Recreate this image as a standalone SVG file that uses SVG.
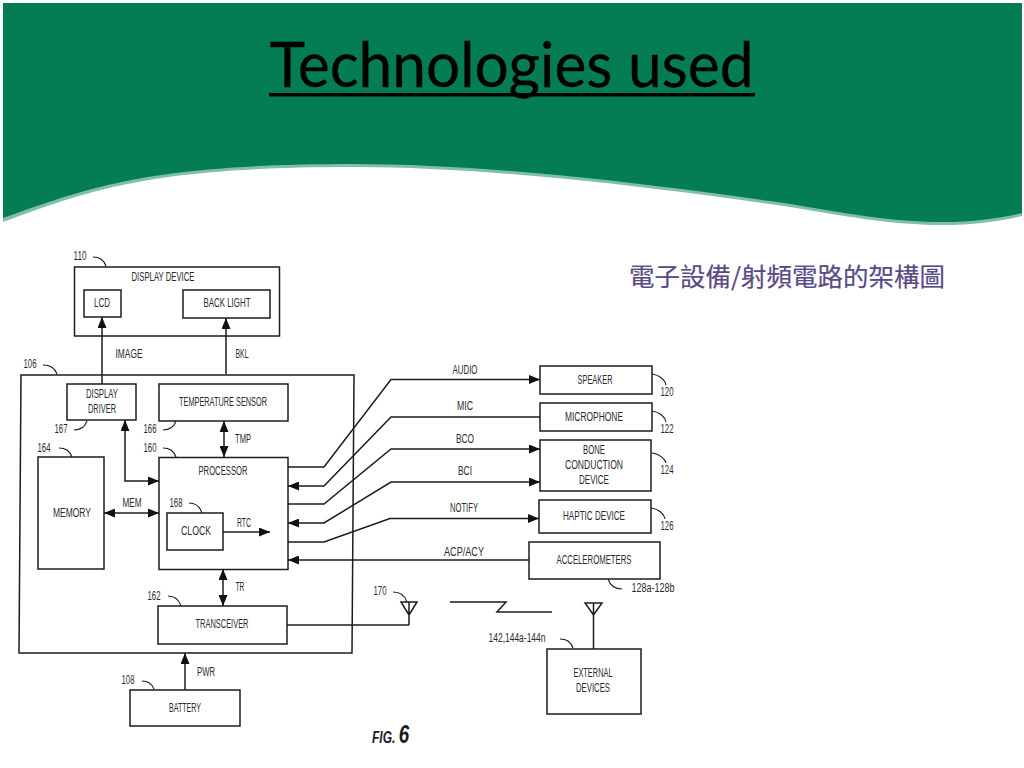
<svg xmlns="http://www.w3.org/2000/svg" width="1024" height="768" viewBox="0 0 1024 768">
<style>
.b{fill:#fff;stroke:#1c1c1c;stroke-width:1.5}
.n{fill:none;stroke:#1c1c1c;stroke-width:1.5}
.l{fill:none;stroke:#1c1c1c;stroke-width:1.1}
.t{font-family:"Liberation Sans",Arial,sans-serif;font-size:12px;fill:#2a2a2a;text-anchor:middle}
.a{marker-end:url(#ah)}
.d{marker-start:url(#as);marker-end:url(#ah)}
</style>
<defs>
<marker id="ah" markerUnits="userSpaceOnUse" markerWidth="12" markerHeight="9" refX="11" refY="4.5" orient="auto"><path d="M0,0L11,4.5L0,9Z" fill="#111"/></marker>
<marker id="as" markerUnits="userSpaceOnUse" markerWidth="12" markerHeight="9" refX="0" refY="4.5" orient="auto"><path d="M11,0L0,4.5L11,9Z" fill="#111"/></marker>
</defs>
<rect width="1024" height="768" fill="#fff"/>
<g id="header">
<path d="M3,6 H1022 V216 C1000,221 975,225 941,225 C900,225 860,219 784,206 C670,190 500,167 353,167 C150,167 90,190 3,222Z" fill="#80C0A6"/>
<path d="M3,3 H1022 V213 C1000,218 975,222 941,222 C900,222 860,216 784,203 C670,187 500,164 353,164 C150,164 90,187 3,218Z" fill="#047C55"/>
<text x="511.5" y="87" font-family="Lato,'Open Sans',sans-serif" font-size="62" text-anchor="middle" fill="#000" stroke="#000" stroke-width="0.3" textLength="484" lengthAdjust="spacingAndGlyphs">Technologies used</text>
<rect x="269" y="93" width="486" height="3.5" fill="#000"/>
</g>
<text id="caption" x="787" y="286" font-family="'Noto Sans CJK TC','Noto Sans',sans-serif" font-size="25" text-anchor="middle" fill="#5A4A86" stroke="#5A4A86" stroke-width="0.2" textLength="316" lengthAdjust="spacingAndGlyphs">電子設備/射頻電路的架構圖</text>

<g id="n106"><path class="b" d="M21,375 L354,375 L352,653 L19,653Z"/><path class="l" d="M43,365 C50,365 55,368 57,374"/><text class="t" x="30" y="368" textLength="13" lengthAdjust="spacingAndGlyphs">106</text></g>
<g id="n110"><rect class="b" x="74.500" y="267" width="205" height="69"/><path class="l" d="M93,257 C100,257 104,260 106,266"/><text class="t" x="80" y="260" textLength="13" lengthAdjust="spacingAndGlyphs">110</text><text class="t" x="163" y="281" textLength="63" lengthAdjust="spacingAndGlyphs">DISPLAY DEVICE</text></g>
<g id="lcd"><rect class="b" x="84" y="290" width="37" height="27"/><text class="t" x="102" y="307" textLength="16" lengthAdjust="spacingAndGlyphs">LCD</text></g>
<g id="backlight"><rect class="b" x="183" y="290" width="87" height="28"/><text class="t" x="227" y="307" textLength="47" lengthAdjust="spacingAndGlyphs">BACK LIGHT</text></g>
<g id="driver"><rect class="b" x="67" y="384" width="69" height="36"/><text class="t" x="102" y="398" textLength="32" lengthAdjust="spacingAndGlyphs">DISPLAY</text><text class="t" x="102" y="413" textLength="28" lengthAdjust="spacingAndGlyphs">DRIVER</text><path class="l" d="M74,430 C80,430 85,427 87,421"/><text class="t" x="61" y="433" textLength="13" lengthAdjust="spacingAndGlyphs">167</text></g>
<g id="temp"><rect class="b" x="159" y="384" width="129" height="37"/><text class="t" x="223" y="406" textLength="88" lengthAdjust="spacingAndGlyphs">TEMPERATURE SENSOR</text><path class="l" d="M163,430 C169,430 174,427 176,421"/><text class="t" x="150" y="433" textLength="13" lengthAdjust="spacingAndGlyphs">166</text></g>
<g id="memory"><rect class="b" x="38" y="457" width="66" height="112"/><text class="t" x="72" y="517" textLength="38" lengthAdjust="spacingAndGlyphs">MEMORY</text><path class="l" d="M59,448 C66,448 70,451 72,457"/><text class="t" x="44" y="452" textLength="13" lengthAdjust="spacingAndGlyphs">164</text></g>
<g id="processor"><rect class="b" x="159" y="457.500" width="129" height="112"/><text class="t" x="223" y="475" textLength="49" lengthAdjust="spacingAndGlyphs">PROCESSOR</text><path class="l" d="M163,448 C170,448 174,451 176,457"/><text class="t" x="150" y="452" textLength="13" lengthAdjust="spacingAndGlyphs">160</text></g>
<g id="clock"><rect class="b" x="167" y="513" width="56" height="37"/><text class="t" x="196" y="535" textLength="30" lengthAdjust="spacingAndGlyphs">CLOCK</text><path class="l" d="M189,503 C196,503 200,507 202,513"/><text class="t" x="176" y="507" textLength="13" lengthAdjust="spacingAndGlyphs">168</text></g>
<g id="transceiver"><rect class="b" x="158" y="606" width="129" height="38"/><text class="t" x="222" y="628" textLength="53" lengthAdjust="spacingAndGlyphs">TRANSCEIVER</text><path class="l" d="M168,596 C175,596 179,600 181,606"/><text class="t" x="154" y="600" textLength="13" lengthAdjust="spacingAndGlyphs">162</text></g>
<g id="battery"><rect class="b" x="130" y="690" width="110" height="36"/><text class="t" x="185" y="712" textLength="32" lengthAdjust="spacingAndGlyphs">BATTERY</text><path class="l" d="M142,681 C149,681 152,684 154,689"/><text class="t" x="128" y="684" textLength="13" lengthAdjust="spacingAndGlyphs">108</text></g>
<g id="speaker"><rect class="b" x="540" y="366" width="112" height="28"/><text class="t" x="595" y="384" textLength="35" lengthAdjust="spacingAndGlyphs">SPEAKER</text><path class="l" d="M652,374 C660,375 665,380 666,385"/><text class="t" x="667" y="396" textLength="13" lengthAdjust="spacingAndGlyphs">120</text></g>
<g id="microphone"><rect class="b" x="540" y="403" width="112" height="28"/><text class="t" x="594" y="421" textLength="58" lengthAdjust="spacingAndGlyphs">MICROPHONE</text><path class="l" d="M652,411 C660,412 665,417 666,422"/><text class="t" x="667" y="433" textLength="13" lengthAdjust="spacingAndGlyphs">122</text></g>
<g id="bone"><rect class="b" x="540" y="440" width="111" height="51"/><text class="t" x="594" y="454" textLength="22" lengthAdjust="spacingAndGlyphs">BONE</text><text class="t" x="594" y="469" textLength="58" lengthAdjust="spacingAndGlyphs">CONDUCTION</text><text class="t" x="594" y="484" textLength="30" lengthAdjust="spacingAndGlyphs">DEVICE</text><path class="l" d="M652,453 C660,454 665,459 666,463"/><text class="t" x="667" y="474" textLength="13" lengthAdjust="spacingAndGlyphs">124</text></g>
<g id="haptic"><rect class="b" x="539" y="500" width="112" height="33"/><text class="t" x="594" y="520" textLength="62" lengthAdjust="spacingAndGlyphs">HAPTIC DEVICE</text><path class="l" d="M651,508 C659,509 664,514 665,519"/><text class="t" x="667" y="530" textLength="13" lengthAdjust="spacingAndGlyphs">126</text></g>
<g id="accel"><rect class="b" x="529" y="542" width="131" height="37"/><text class="t" x="594" y="564" textLength="75" lengthAdjust="spacingAndGlyphs">ACCELEROMETERS</text><path class="l" d="M608,579 C610,585 615,589 622,589"/><text class="t" x="653" y="592" textLength="43" lengthAdjust="spacingAndGlyphs">128a-128b</text></g>
<g id="external"><rect class="b" x="547" y="649" width="94" height="65"/><text class="t" x="593" y="677" textLength="39" lengthAdjust="spacingAndGlyphs">EXTERNAL</text><text class="t" x="593" y="692" textLength="34" lengthAdjust="spacingAndGlyphs">DEVICES</text><path class="l" d="M560,639 C567,639 571,642 573,648"/><text class="t" x="517" y="642" textLength="57" lengthAdjust="spacingAndGlyphs">142,144a-144n</text></g>
<g id="antenna170"><path class="n" d="M401,602H417L409,615Z M409,602V625"/><path class="l" d="M393,592 C400,592 405,596 407,602"/><text class="t" x="380" y="595" textLength="13" lengthAdjust="spacingAndGlyphs">170</text></g>
<g id="antenna2"><path class="n" d="M585,603H602L593.500,615Z M593.500,603V649"/></g>

<g id="connectors">
<path class="n a" d="M102,384V317"/>
<path class="n a" d="M226,374V318"/>
<path class="n d" d="M125,420V481H159"/>
<path class="n d" d="M224,421V457"/>
<path class="n d" d="M104,513H159"/>
<path class="n a" d="M223,532H270"/>
<path class="n d" d="M223,569V606"/>
<path class="n a" d="M185,690V653"/>
<path class="n a" d="M288,467H324L391,379.500H540"/>
<path class="n a" d="M540,417H391L324,486H288"/>
<path class="n a" d="M288,504H324L391,449H540"/>
<path class="n d" d="M288,523H324L391,482H540"/>
<path class="n a" d="M288,542H324L390,518.500H539"/>
<path class="n a" d="M529,560H288"/>
<path class="n" d="M287,625H409"/>
<path class="n" d="M450,602H506L497,612H552"/>
</g>

<g id="labels">
<text class="t" x="129" y="358" textLength="27" lengthAdjust="spacingAndGlyphs">IMAGE</text>
<text class="t" x="242" y="358" textLength="13" lengthAdjust="spacingAndGlyphs">BKL</text>
<text class="t" x="243" y="443" textLength="16" lengthAdjust="spacingAndGlyphs">TMP</text>
<text class="t" x="132" y="507" textLength="19" lengthAdjust="spacingAndGlyphs">MEM</text>
<text class="t" x="244" y="527" textLength="14" lengthAdjust="spacingAndGlyphs">RTC</text>
<text class="t" x="240" y="591" textLength="9" lengthAdjust="spacingAndGlyphs">TR</text>
<text class="t" x="206" y="676" textLength="18" lengthAdjust="spacingAndGlyphs">PWR</text>
<text class="t" x="465" y="374" textLength="25" lengthAdjust="spacingAndGlyphs">AUDIO</text>
<text class="t" x="465" y="410" textLength="16" lengthAdjust="spacingAndGlyphs">MIC</text>
<text class="t" x="465" y="443" textLength="18" lengthAdjust="spacingAndGlyphs">BCO</text>
<text class="t" x="465" y="475" textLength="14" lengthAdjust="spacingAndGlyphs">BCI</text>
<text class="t" x="464" y="512" textLength="28" lengthAdjust="spacingAndGlyphs">NOTIFY</text>
<text class="t" x="464" y="556" textLength="40" lengthAdjust="spacingAndGlyphs">ACP/ACY</text>
<text id="figlabel" transform="translate(372,743) scale(0.75,1)" font-family="'Liberation Sans',sans-serif" font-style="italic" font-weight="bold" font-size="16" fill="#1c1c1c">FIG. <tspan font-size="25">6</tspan></text>
</g>
</svg>
